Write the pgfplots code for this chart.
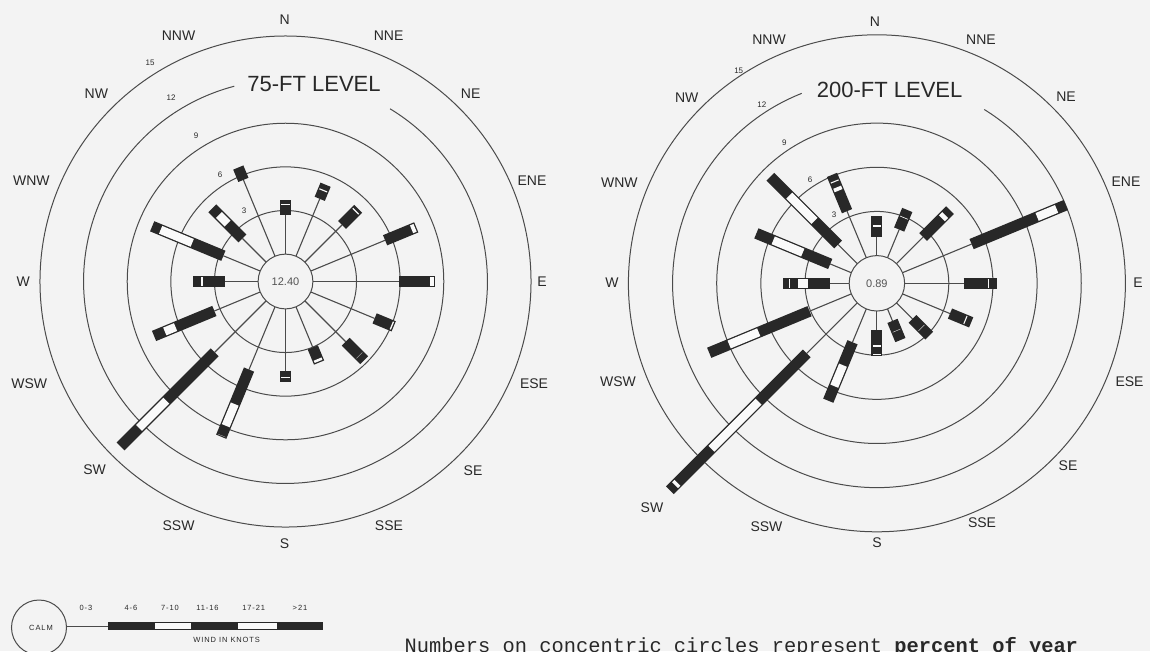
\documentclass[border=0pt]{standalone}
\usepackage{fontspec}
\setmainfont{Liberation Sans}
\newfontfamily\monofont{Liberation Mono}
\newfontfamily\widefont[LetterSpace=12]{Liberation Sans}
\usepackage{pgfplots}
\pgfplotsset{compat=1.18}
\usepgfplotslibrary{polar}
\definecolor{bg}{RGB}{243,243,243}
\definecolor{ink}{RGB}{40,40,40}
\definecolor{ring}{RGB}{75,75,75}

% \windbar{angle}{end 0-3}{end 4-6}{end 7-10}{end 11-16}{end 17-21}{end >21}  (percent of year, cumulative)
\newcommand{\windbar}[7]{%
  \addplot[ring, line width=1.1pt] coordinates {(#1,0) (#1,#2)};
  \addplot[ink, line width=11pt] coordinates {(#1,#2) (#1,#7)};
  \ifdim #4pt>#3pt
    \addplot[bg!40!white, line width=8.4pt, shorten <=1.3pt, shorten >=1.3pt] coordinates {(#1,#3) (#1,#4)};
  \fi
  \ifdim #6pt>#5pt
    \addplot[bg!40!white, line width=8.4pt, shorten <=1.3pt, shorten >=1.3pt] coordinates {(#1,#5) (#1,#6)};
  \fi
}

\pgfplotsset{rose/.style={
  scale only axis, clip=false, anchor=center,
  ymin=0, ymax=17,
  xtick=\empty, ytick={1.884,4.884,7.884,10.884,16.884},
  yticklabels={,,,,,}, major tick length=0pt,
  ymajorgrids=true, xmajorgrids=false,
  major grid style={ring, line width=1pt},
  axis line style={draw=none},
  every axis plot/.append style={y filter/.expression={y+1.884}},
}}

\begin{document}
\begin{tikzpicture}[x=1pt, y=-1pt]
\useasboundingbox (0,0) rectangle (1150,651);
\fill[bg] (0,0) rectangle (1150,651);

% ---------------- 75-FT LEVEL ----------------
\begin{polaraxis}[rose, at={(285.5pt,-281.5pt)}, width=494.4pt, height=494.4pt]
\draw[ring, line width=1pt] (axis cs:0,0) ++(104.7:201.9pt) arc[start angle=104.7, end angle=418.8, radius=201.9pt];
\windbar{90}{2.72}{3.34}{3.46}{3.69}{3.69}{3.69}     % N
\windbar{67.5}{4.27}{4.85}{4.95}{5.32}{5.32}{5.32}   % NNE
\windbar{45}{3.62}{4.90}{5.00}{5.19}{5.19}{5.19}     % NE
\windbar{22.5}{5.53}{7.41}{7.85}{7.85}{7.85}{7.85}   % ENE
\windbar{0}{5.93}{7.97}{8.41}{8.41}{8.41}{8.41}      % E
\windbar{337.5}{4.75}{5.90}{6.17}{6.17}{6.17}{6.17}  % ESE
\windbar{315}{3.97}{5.20}{5.40}{5.77}{5.77}{5.77}    % SE
\windbar{292.5}{3.02}{3.80}{4.15}{4.15}{4.15}{4.15}  % SSE
\windbar{270}{4.24}{4.60}{4.75}{5.05}{5.05}{5.05}    % S
\windbar{247.5}{4.67}{7.15}{8.94}{9.50}{9.67}{9.67}  % SSW
\windbar{225}{5.00}{9.62}{12.45}{14.16}{14.16}{14.16} % SW
\windbar{202.5}{3.41}{6.21}{7.19}{7.90}{7.90}{7.90}  % WSW
\windbar{180}{2.29}{3.70}{4.00}{4.47}{4.47}{4.47}    % W
\windbar{157.5}{2.74}{4.97}{7.50}{8.04}{8.04}{8.04}  % WNW
\windbar{135}{2.30}{3.66}{4.68}{5.24}{5.24}{5.24}    % NW
\windbar{112.5}{5.68}{6.60}{6.60}{6.60}{6.60}{6.60}  % NNW
\end{polaraxis}

% ---------------- 200-FT LEVEL ----------------
\begin{polaraxis}[rose, at={(876.9pt,-283.3pt)}, width=500.4pt, height=500.4pt]
\draw[ring, line width=1pt] (axis cs:0,0) ++(111.6:204.3pt) arc[start angle=111.6, end angle=418.3, radius=204.3pt];
\windbar{90}{1.27}{1.88}{2.18}{2.68}{2.68}{2.68}     % N
\windbar{67.5}{2.07}{2.83}{3.05}{3.51}{3.51}{3.51}   % NNE
\windbar{45}{2.56}{4.27}{4.76}{5.14}{5.14}{5.14}     % NE
\windbar{22.5}{5.08}{9.81}{11.42}{12.01}{12.01}{12.01} % ENE
\windbar{0}{4.00}{5.55}{5.78}{6.25}{6.25}{6.25}      % E
\windbar{337.5}{3.49}{4.50}{4.75}{5.05}{5.05}{5.05}  % ESE
\windbar{315}{1.54}{2.30}{2.50}{3.15}{3.15}{3.15}    % SE
\windbar{292.5}{0.88}{1.50}{1.70}{2.29}{2.29}{2.29}  % SSE
\windbar{270}{1.32}{2.25}{2.55}{2.85}{3.03}{3.03}    % S
\windbar{247.5}{2.45}{4.05}{5.77}{6.75}{6.75}{6.75}  % SSW
\windbar{225}{4.85}{9.40}{14.10}{17.20}{17.60}{18.00} % SW
\windbar{202.5}{3.07}{6.72}{9.07}{10.45}{10.45}{10.45} % WSW
\windbar{180}{1.30}{2.71}{3.54}{4.00}{4.15}{4.49}    % W
\windbar{157.5}{1.55}{3.48}{5.83}{6.98}{6.98}{6.98}  % WNW
\windbar{135}{1.84}{4.02}{6.63}{8.36}{8.36}{8.36}    % NW
\windbar{112.5}{3.42}{4.84}{5.27}{5.48}{5.73}{6.09}  % NNW
\end{polaraxis}

% ---------------- compass labels ----------------
\begin{scope}[every node/.style={text=ink, font=\fontsize{14}{14}\selectfont}]
\foreach \t/\px/\py in {N/284.6/19.6, NNE/388.6/35.7, NE/470.7/93.6, ENE/532/180.4,
  E/542/282, ESE/534/384, SE/473/470.7, SSE/389/525.7, S/284.6/543.6, SSW/178.6/525.7,
  SW/94.6/469.6, WSW/29.3/384, W/23.2/282, WNW/31.4/180.4, NW/96.4/93.6, NNW/178.6/35.7}
  \node at (\px,\py) {\t};
\foreach \t/\px/\py in {N/875/22, NNE/981/40, NE/1066/97, ENE/1126/182,
  E/1138/283, ESE/1129.5/382, SE/1068/466, SSE/982/523, S/877/543, SSW/766.5/527,
  SW/652/508, WSW/618/382, W/612/283, WNW/619.4/183, NW/686.7/98, NNW/769/40}
  \node at (\px,\py) {\t};
\end{scope}

% ring labels
\begin{scope}[every node/.style={text=ink, font=\fontsize{8}{8}\selectfont}]
\foreach \t/\px/\py in {15/150/62.5, 12/171/98, 9/196/136, 6/220/175, 3/244/211,
  15/738.7/70.6, 12/761.9/104.9, 9/784.4/142.3, 6/810/179.5, 3/834/215.2}
  \node at (\px,\py) {\t};
\end{scope}

% titles and calm values
\node[text=ink, font=\fontsize{22}{22}\selectfont] at (314,84) {75-FT LEVEL};
\node[text=ink, font=\fontsize{22}{22}\selectfont] at (889.6,90) {200-FT LEVEL};
\node[text=ink!80, font=\fontsize{11}{11}\selectfont] at (285.5,281.5) {12.40};
\node[text=ink!80, font=\fontsize{11}{11}\selectfont] at (876.9,283.3) {0.89};

% ---------------- key ----------------
\draw[ring, line width=1pt] (39,627.5) circle[radius=27.5pt];
\node[text=ink, font=\widefont\fontsize{7.5}{7.5}\selectfont] at (41,628) {CALM};
\draw[ring, line width=1pt] (66.5,626) -- (108,626);
\fill[ink] (108,622) rectangle (322.7,630);
\fill[bg!40!white] (155.3,623.3) rectangle (191.4,628.7);
\fill[bg!40!white] (238.3,623.3) rectangle (276.7,628.7);
\begin{scope}[every node/.style={text=ink, font=\widefont\fontsize{7.5}{7.5}\selectfont}]
\node at (86,608.3) {0-3};
\node at (131,608.3) {4-6};
\node at (170,608.3) {7-10};
\node at (207.5,608.3) {11-16};
\node at (253.7,608.3) {17-21};
\node at (300,608.3) {>21};
\node at (226.7,640) {WIND IN KNOTS};
\end{scope}

\node[anchor=base west, inner sep=0pt, text=ink, font=\monofont\fontsize{20.4}{20.4}\selectfont]
  at (404.5,652) {Numbers on concentric circles represent \textbf{percent of year}};
\end{tikzpicture}
\end{document}
